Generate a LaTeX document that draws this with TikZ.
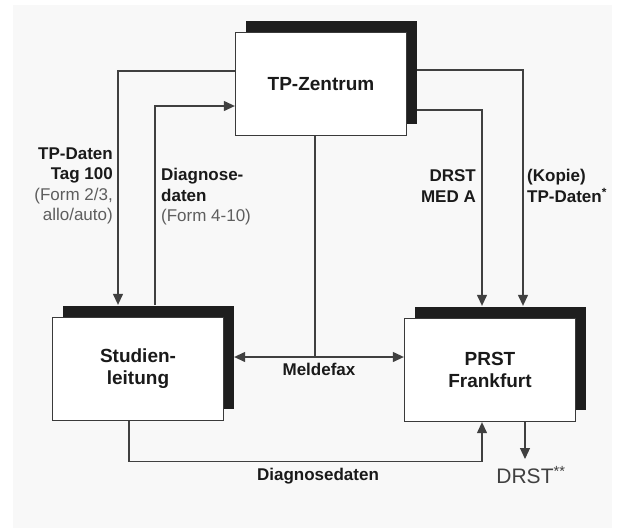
\documentclass[tikz,border=0pt]{standalone}
\usepackage{fontspec}
\setmainfont{Liberation Sans}
\usetikzlibrary{arrows.meta,shadows}

\definecolor{fdlinie}{HTML}{404040}
\definecolor{fdrand}{HTML}{3A3A3A}
\definecolor{fdschatten}{HTML}{1E1E1E}
\definecolor{fdtext}{HTML}{1A1A1A}
\definecolor{fdgrau}{HTML}{5E5E5E}
\definecolor{fdgrund}{HTML}{F8F8F8}
\newcommand{\formtext}[1]{{\mdseries\color{fdgrau}#1}}
\tikzset{
  kasten/.style={draw=fdrand,fill=white,line width=1.3pt,minimum width=171pt,minimum height=103pt,
    align=center,text=fdtext,font=\fontsize{19}{22}\selectfont\bfseries,
    general shadow={fill=fdschatten,shadow xshift=10pt,shadow yshift=12pt}},
  linie/.style={draw=fdlinie,line width=1.2pt},
  pfeil/.style={linie,-{Triangle[length=11pt,width=10pt]}},
  doppelpfeil/.style={linie,{Triangle[length=11pt,width=10pt]}-{Triangle[length=11pt,width=10pt]}},
  beschr/.style={text=fdtext,font=\fontsize{17}{20.5}\selectfont\bfseries,inner sep=0pt},
  ausgang/.style={text=fdlinie,font=\fontsize{21}{24}\selectfont,inner sep=0pt},
}

\begin{document}
\begin{tikzpicture}[x=1pt,y=-1pt]
  % grund
  \fill[white] (0,0) rectangle (622,528);
  \fill[fdgrund] (13,5) rectangle (612,528);
  \useasboundingbox (0,0) rectangle (622,528);
  % kaesten
  \node[kasten] (tp) at (321,84) {TP-Zentrum};
  \node[kasten] (sl) at (138,369) {Studien-\\leitung};
  \node[kasten] (prst) at (490,370) {PRST\\Frankfurt};
  % links
  \draw[pfeil] ([yshift=13pt]tp.west) -| ([xshift=-20pt,yshift=12pt]sl.north);
  \draw[pfeil] ([xshift=17pt,yshift=12pt]sl.north) |- ([yshift=-22pt]tp.west);
  \node[beschr,align=right,anchor=east] (tpdaten) at (113,186) {TP-Daten\\Tag 100\\\formtext{(Form 2/3,}\\\formtext{allo/auto)}};
  \node[beschr,align=left,anchor=west] (diagtext) at (161,197) {Diagnose-\\daten\\\formtext{(Form 4-10)}};
  % rechts
  \draw[pfeil] ([xshift=10pt,yshift=14pt]tp.east) -| ([xshift=33pt,yshift=12pt]prst.north);
  \draw[pfeil] ([xshift=10pt,yshift=-26pt]tp.east) -| ([xshift=-8pt,yshift=12pt]prst.north);
  \node[beschr,align=right,anchor=east] (drsttext) at (476,186) {DRST\\MED A};
  \node[beschr,align=left,anchor=west] (kopietext) at (527,186) {(Kopie)\\TP-Daten\textsuperscript{*}};
  % meldefax
  \coordinate (mf) at (315,357);
  \draw[linie] ([xshift=-6pt]tp.south) -- (mf);
  \draw[doppelpfeil] ([xshift=10pt,yshift=12pt]sl.east) -- node[beschr,below=6pt] (mftext) {Meldefax} ([yshift=13pt]prst.west);
  % unten
  \draw[pfeil] ([xshift=-9pt]sl.south) -- ++(0,40) -| ([xshift=-8pt]prst.south);
  \node[beschr] (ddtext) at (318,476) {Diagnosedaten};
  \node[ausgang,anchor=north] (drst) at (525,469) {DRST\rlap{\smash{\textsuperscript{**}}}};
  \draw[pfeil,shorten >=10pt] ([xshift=35pt]prst.south) -- (drst);
\end{tikzpicture}
\end{document}
